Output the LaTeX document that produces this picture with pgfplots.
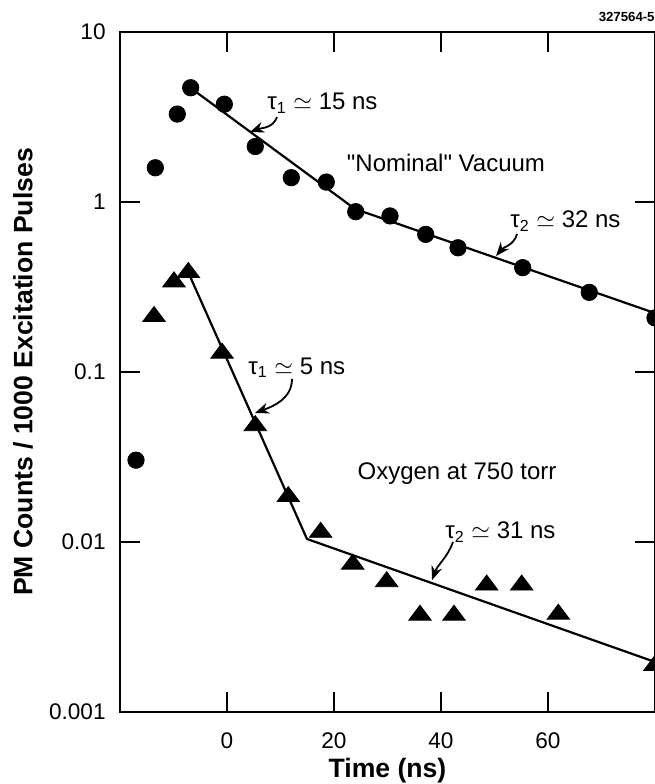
\documentclass[border=0pt]{standalone}
\usepackage{fontspec}
\setmainfont{Liberation Sans}
\usepackage{pgfplots}
\pgfplotsset{compat=1.18}
\usetikzlibrary{arrows.meta}
\begin{document}
\begin{tikzpicture}[note/.style={anchor=west, inner sep=0pt, font=\fontsize{12}{14}\selectfont},
  pointer/.style={line width=0.9pt, -{Stealth[length=7pt,width=5.5pt]}}]
\begin{axis}[
  scale only axis, width=267.5pt, height=340pt,
  ymode=log, xmin=-20, xmax=80, ymin=0.001, ymax=10,
  xtick={0,20,40,60}, ytick={0.001,0.01,0.1,1,10},
  yticklabels={0.001,0.01,0.1,1,10},
  yminorticks=false,
  major tick length=10pt,
  tick style={line width=1pt, black},
  axis line style={line width=1.3pt},
  /pgf/number format/assume math mode=true,
  tick label style={font=\fontsize{11.3}{13}\selectfont},
  yticklabel style={inner sep=0pt, xshift=-7pt},
  xticklabel style={inner sep=0pt, yshift=-10pt},
  xlabel={Time (ns)}, ylabel={PM Counts / 1000 Excitation Pulses},
  label style={font=\fontsize{13.3}{15}\selectfont\bfseries},
  xlabel style={at={(axis description cs:0.5,-0.0868)}, anchor=center},
  ylabel style={at={(axis description cs:-0.1813,0.5)}, anchor=center},
]
% "Nominal" vacuum
\addplot[black, only marks, mark=*, mark size=4.1pt] coordinates {
  (-17.01,0.0303) (-13.40,1.59) (-9.29,3.29) (-6.79,4.70) (-0.50,3.76)
  (5.29,2.12) (12.02,1.39) (18.56,1.31) (24.06,0.877) (30.47,0.828)
  (37.14,0.645) (43.18,0.538) (55.27,0.411) (67.72,0.294) (80,0.208)};
% oxygen at 750 torr
\addplot[black, only marks, mark=triangle*, mark size=6.5pt, mark options={yscale=0.77}] coordinates {
  (-13.64,0.212) (-9.91,0.339) (-7.23,0.385) (-0.93,0.129) (5.29,0.0483)
  (11.46,0.0185) (17.51,0.0114) (23.50,0.00741) (29.85,0.00584) (36.07,0.00371)
  (42.43,0.00371) (48.54,0.00558) (55.08,0.00558) (61.93,0.00376) (80,0.00188)};
% fits
\addplot[black, line width=1.1pt, no marks] coordinates {(-5.79,4.44) (23.93,0.910) (80,0.222)};
\addplot[black, line width=1.1pt, no marks] coordinates {(-7.10,0.377) (14.95,0.01042) (80,0.00197)};

\node[note] at (axis cs:7.48,3.82) {τ\textsubscript{1} $\simeq$ 15 ns};
\draw[pointer] (axis cs:9.35,3.16) to[out=-110,in=20] (axis cs:4.30,2.58);
\node[note, anchor=center] at (axis cs:40.93,1.70) {\textquotedbl Nominal\textquotedbl{} Vacuum};
\node[note] at (axis cs:52.9,0.773) {τ\textsubscript{2} $\simeq$ 32 ns};
\draw[pointer] (axis cs:54.21,0.649) to[out=-105,in=50] (axis cs:50.28,0.481);
\node[note] at (axis cs:3.93,0.106) {τ\textsubscript{1} $\simeq$ 5 ns};
\draw[pointer] (axis cs:12.15,0.0910) to[out=-90,in=20] (axis cs:5.23,0.0574);
\node[note, anchor=center] at (axis cs:42.99,0.0251) {Oxygen at 750 torr};
\node[note] at (axis cs:40.75,0.01146) {τ\textsubscript{2} $\simeq$ 31 ns};
\draw[pointer] (axis cs:42.24,0.0100) to[out=-110,in=70] (axis cs:38.32,0.00597);

\coordinate (bl) at (rel axis cs:0,0);
\coordinate (tr) at (rel axis cs:1,1);
\end{axis}
\node[anchor=south east, inner sep=0pt, font=\fontsize{6.6}{8}\selectfont\bfseries] at ([yshift=5pt]tr) {327564-5};
\pgfresetboundingbox
\path[use as bounding box] ([shift={(-60pt,-36pt)}]bl) rectangle ([shift={(0pt,16pt)}]tr);
\end{tikzpicture}
\end{document}
